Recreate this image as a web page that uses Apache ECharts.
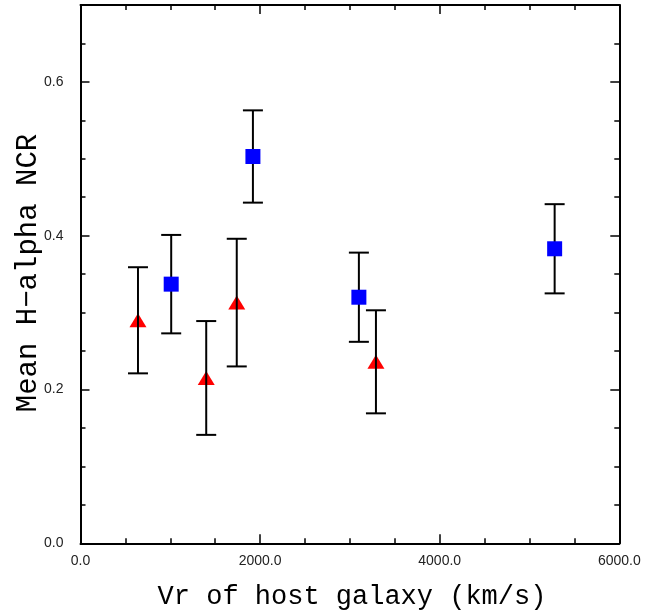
<!DOCTYPE html>
<html>
<head>
<meta charset="utf-8">
<script src="https://cdn.jsdelivr.net/npm/echarts@6/dist/echarts.min.js"></script>
<style>
html,body{margin:0;padding:0;background:#fff;}
#chart{width:650px;height:614px;}
</style>
</head>
<body>
<div id="chart"></div>
<script>
// Red triangles
var triX = [640, 1400, 1740, 3290];
var triY = [0.290, 0.215, 0.313, 0.236];
var triErr = [0.069, 0.074, 0.083, 0.067];
// Blue squares
var sqX = [1010, 1920, 3100, 5280];
var sqY = [0.337, 0.503, 0.320, 0.383];
var sqErr = [0.064, 0.060, 0.058, 0.058];

var xTitle = 'Vr of host galaxy (km/s)';
var yTitle = 'Mean H\u2212alpha NCR';

var chart = echarts.init(document.getElementById('chart'), null, {renderer: 'canvas'});

var errData = [];
for (var i = 0; i < triX.length; i++) errData.push([triX[i], triY[i] - triErr[i], triY[i] + triErr[i]]);
for (var j = 0; j < sqX.length; j++) errData.push([sqX[j], sqY[j] - sqErr[j], sqY[j] + sqErr[j]]);

function renderErr(params, api) {
  var x = api.value(0);
  var lo = api.coord([x, api.value(1)]);
  var hi = api.coord([x, api.value(2)]);
  var hw = 10;
  var st = {stroke: '#000', lineWidth: 2};
  return {
    type: 'group',
    children: [
      {type: 'line', shape: {x1: lo[0], y1: lo[1], x2: hi[0], y2: hi[1]}, style: st},
      {type: 'line', shape: {x1: lo[0] - hw, y1: lo[1], x2: lo[0] + hw, y2: lo[1]}, style: st},
      {type: 'line', shape: {x1: hi[0] - hw, y1: hi[1], x2: hi[0] + hw, y2: hi[1]}, style: st}
    ]
  };
}

function xAx(pos, interval, len, showLabel, showLine) {
  return {
    type: 'value', min: 0, max: 6000, interval: interval, position: pos,
    axisLine: {show: showLine, onZero: false, lineStyle: {color: '#000', width: 2}},
    axisTick: {show: true, inside: true, length: len, lineStyle: {color: '#000', width: 1.5}},
    axisLabel: {show: showLabel, margin: 11, fontFamily: 'Liberation Sans', fontSize: 14, color: '#222',
                formatter: function (v) { return v.toFixed(1); }},
    splitLine: {show: false}
  };
}
function yAx(pos, interval, len, showLabel, showLine) {
  return {
    type: 'value', min: 0, max: 0.7, interval: interval, position: pos,
    axisLine: {show: showLine, onZero: false, lineStyle: {color: '#000', width: 2}},
    axisTick: {show: true, inside: true, length: len, lineStyle: {color: '#000', width: 1.5}},
    axisLabel: {show: showLabel, margin: 17, showMaxLabel: false, fontFamily: 'Liberation Sans', fontSize: 14, color: '#222',
                formatter: function (v) { return v.toFixed(1); }},
    splitLine: {show: false}
  };
}

var xAxes = [
  xAx('bottom', 2000, 9, true, true),
  xAx('bottom', 500, 5, false, false),
  xAx('top', 2000, 9, false, true),
  xAx('top', 500, 5, false, false)
];
var yAxes = [
  yAx('left', 0.2, 9, true, true),
  yAx('left', 0.05, 5, false, false),
  yAx('right', 0.2, 9, false, true),
  yAx('right', 0.05, 5, false, false)
];

var option = {
  animation: false,
  backgroundColor: '#fff',
  grid: {left: 80.5, right: 30.7, top: 5, bottom: 70.7, containLabel: false},
  xAxis: xAxes,
  yAxis: yAxes,
  graphic: [
    {type: 'text', x: 352, y: 597,
     style: {text: xTitle, font: '27px "Liberation Mono"', fill: '#000', textAlign: 'center', textVerticalAlign: 'middle'}},
    {type: 'text', rotation: Math.PI / 2, x: 28, y: 273,
     style: {text: yTitle, font: '29px "Liberation Mono"', fill: '#000', textAlign: 'center', textVerticalAlign: 'middle'}}
  ],
  series: [
    {type: 'scatter', xAxisIndex: 0, yAxisIndex: 0, z: 2,
     symbol: 'triangle', symbolSize: [17, 14],
     itemStyle: {color: '#ff0000', opacity: 1},
     data: triX.map(function (x, k) { return [x, triY[k]]; })},
    {type: 'custom', xAxisIndex: 0, yAxisIndex: 0, z: 3,
     renderItem: renderErr, data: errData},
    {type: 'scatter', xAxisIndex: 0, yAxisIndex: 0, z: 4,
     symbol: 'rect', symbolSize: [15, 15],
     itemStyle: {color: '#0000ff', opacity: 1},
     data: sqX.map(function (x, k) { return [x, sqY[k]]; })}
  ]
};
chart.setOption(option);
</script>
</body>
</html>
